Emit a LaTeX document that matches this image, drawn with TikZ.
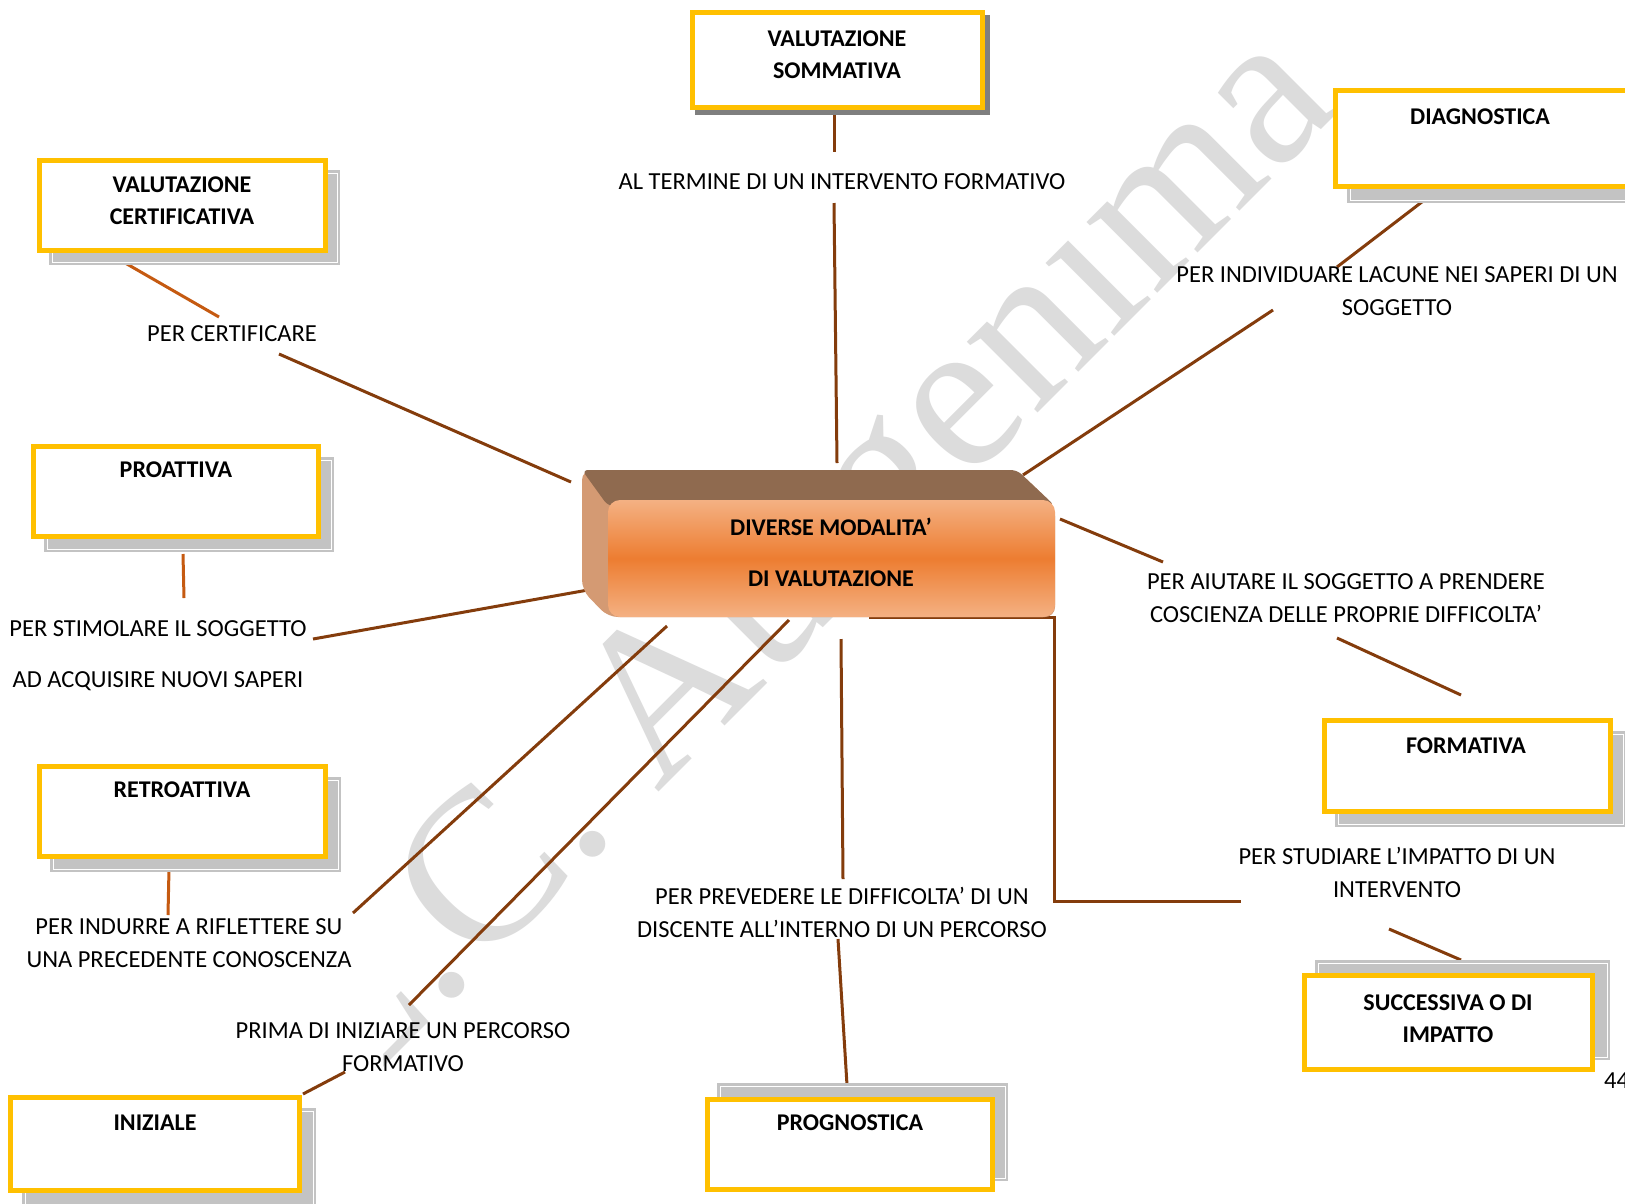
\documentclass[tikz,border=0pt]{standalone}
\usepackage{fontspec}
\setmainfont{Carlito}
\newfontfamily\wmfont{Liberation Serif}
\definecolor{ybord}{HTML}{FFC000}
\definecolor{lnbrown}{HTML}{843C0C}
\definecolor{lnorange}{HTML}{C55A11}
\definecolor{shlight}{HTML}{C3C3C3}
\definecolor{shdark}{HTML}{7F7F7F}
\definecolor{wmgray}{HTML}{DCDCDC}
\definecolor{topface}{HTML}{8F6A4F}
\definecolor{leftface}{HTML}{D49A73}
\definecolor{frontlight}{HTML}{F4B183}
\definecolor{frontdark}{HTML}{ED7D31}
\begin{document}
\begin{tikzpicture}[x=1pt,y=-1pt,
  ybox/.style={draw=ybord,line width=5pt,fill=white,inner sep=0pt},
  shlt/.style={fill=shlight},
  shline/.style={draw=white,line width=1pt},
  btxt/.style={font=\fontsize{24}{32}\selectfont\bfseries,align=center,inner sep=0pt},
  lab/.style={font=\fontsize{24.5}{33}\selectfont,align=center,inner sep=0pt},
  conn/.style={draw=lnbrown,line width=3pt},
  connor/.style={draw=lnorange,line width=3pt}]
\useasboundingbox[fill=white] (0,0) rectangle (1625,1203);

% watermark
\begin{scope}
\clip (383,0) rectangle (1625,1203);
\node[rotate=45,anchor=base west,text=wmgray,inner sep=0pt,
  font=\fontsize{218}{218}\selectfont\wmfont] (wm) at (345,1106) {L.C. Auigenıma};
\end{scope}

% connector end points
\coordinate (a1) at (834,110); \coordinate (a2) at (834,152);
\coordinate (a3) at (834,203); \coordinate (a4) at (837,463);
\coordinate (d1) at (1431,195); \coordinate (d2) at (1337,267);
\coordinate (d3) at (1273,310); \coordinate (d4) at (1023,475);
\coordinate (e1) at (120,260); \coordinate (e2) at (219,317);
\coordinate (e3) at (279,354); \coordinate (e4) at (571,482);
\coordinate (p1) at (183,554); \coordinate (p2) at (184,598);
\coordinate (p3) at (313,639); \coordinate (p4) at (588,590);
\coordinate (r1) at (169,869); \coordinate (r2) at (168,915);
\coordinate (r3) at (353,913); \coordinate (r4) at (667,626);
\coordinate (i3) at (409,1005); \coordinate (i4) at (789,620);
\coordinate (i1) at (303,1094); \coordinate (i2) at (345,1072);
\coordinate (g1) at (841,639); \coordinate (g2) at (843,879);
\coordinate (g3) at (838,939); \coordinate (g4) at (847,1085);
\coordinate (f1) at (1060,519); \coordinate (f2) at (1163,562);
\coordinate (f3) at (1337,638); \coordinate (f4) at (1461,695);
\coordinate (s1) at (869,617); \coordinate (s2) at (1054,617);
\coordinate (s3) at (1054,901); \coordinate (s4) at (1241,901);
\coordinate (s5) at (1389,929); \coordinate (s6) at (1461,960);

\draw[conn] (a1) -- (a2);
\draw[conn] (a3) -- (a4);
\draw[conn] (d1) -- (d2);
\draw[conn] (d3) -- (d4);
\draw[connor] (e1) -- (e2);
\draw[conn] (e3) -- (e4);
\draw[connor] (p1) -- (p2);
\draw[conn] (p3) -- (p4);
\draw[connor] (r1) -- (r2);
\draw[conn] (r3) -- (r4);
\draw[conn] (i3) -- (i4);
\draw[conn] (i1) -- (i2);
\draw[conn] (g1) -- (g2);
\draw[conn] (g3) -- (g4);
\draw[conn] (f1) -- (f2);
\draw[conn] (f3) -- (f4);
\draw[conn] (s1) -- (s2) -- (s3) -- (s4);
\draw[conn] (s5) -- (s6);

% shadows
\fill[shdark] (695,15) rectangle (990,115);
\fill[shlt] (1347,102) rectangle (1640,203);
\draw[shline] (1350,105) rectangle (1637,200);
\fill[shlt] (49,170) rectangle (340,265);
\draw[shline] (52,173) rectangle (337,262);
\fill[shlt] (44,457) rectangle (334,552);
\draw[shline] (47,460) rectangle (331,549);
\fill[shlt] (50,777) rectangle (341,872);
\draw[shline] (53,780) rectangle (338,869);
\fill[shlt] (22,1108) rectangle (316,1210);
\draw[shline] (25,1111) rectangle (313,1207);
\fill[shlt] (717,1083) rectangle (1008,1181);
\draw[shline] (720,1086) rectangle (1005,1178);
\fill[shlt] (1335,731) rectangle (1626,827);
\draw[shline] (1338,734) rectangle (1623,824);
\fill[shlt] (1315,960) rectangle (1610,1060);
\draw[shline] (1318,963) rectangle (1607,1057);

% boxes
\node[ybox,minimum width=290pt,minimum height=95pt] (somm) at (837.5,60) {};
\node[ybox,minimum width=292pt,minimum height=96pt] (diag) at (1481.5,138.5) {};
\node[ybox,minimum width=286pt,minimum height=90pt] (cert) at (182.5,205.5) {};
\node[ybox,minimum width=285pt,minimum height=90pt] (proa) at (176,491.5) {};
\node[ybox,minimum width=286pt,minimum height=90pt] (retr) at (182.5,811.5) {};
\node[ybox,minimum width=289pt,minimum height=93pt] (iniz) at (155,1144) {};
\node[ybox,minimum width=285pt,minimum height=90pt] (prog) at (850,1144.5) {};
\node[ybox,minimum width=286pt,minimum height=91pt] (form) at (1467.5,766) {};
\node[ybox,minimum width=288pt,minimum height=94pt] (succ) at (1448.5,1022.5) {};

\node[btxt] (tsomm) at (837,55) {VALUTAZIONE\\SOMMATIVA};
\node[btxt] (tdiag) at (1480,117) {DIAGNOSTICA};
\node[btxt] (tcert) at (182,200.5) {VALUTAZIONE\\CERTIFICATIVA};
\node[btxt] (tproa) at (176,470) {PROATTIVA};
\node[btxt] (tretr) at (182,790) {RETROATTIVA};
\node[btxt] (tiniz) at (155,1123) {INIZIALE};
\node[btxt] (tprog) at (850,1123) {PROGNOSTICA};
\node[btxt] (tform) at (1466,746) {FORMATIVA};
\node[btxt] (tsucc) at (1448,1019) {SUCCESSIVA O DI\\IMPATTO};

% central 3D box
\fill[leftface,rounded corners=10pt] (582,470) -- (1017,470) -- (1055,506) -- (1055,617) -- (608,617) -- (582,590) -- cycle;
\fill[topface,rounded corners=6pt] (582,470) -- (1017,470) -- (1055,506) -- (608,506) -- cycle;
\shade[top color=frontlight,bottom color=frontlight,middle color=frontdark,rounded corners=12pt]
  (608,500) rectangle (1055,617);
\node[font=\fontsize{24}{51}\selectfont\bfseries,align=center,inner sep=0pt] (core) at (831,552.5)
  {DIVERSE MODALITA’\\DI VALUTAZIONE};

% labels
\node[lab] (lal) at (842,182) {AL TERMINE DI UN INTERVENTO FORMATIVO};
\node[lab] (lind) at (1397,291) {PER INDIVIDUARE LACUNE NEI SAPERI DI UN\\SOGGETTO};
\node[lab] (lcert) at (232,334) {PER CERTIFICARE};
\node[lab,font=\fontsize{24.5}{51}\selectfont] (lstim) at (158,655.5) {PER STIMOLARE IL SOGGETTO\\AD ACQUISIRE NUOVI SAPERI};
\node[lab] (laiu) at (1346,598) {PER AIUTARE IL SOGGETTO A PRENDERE\\COSCIENZA DELLE PROPRIE DIFFICOLTA’};
\node[lab] (lstu) at (1397,872.5) {PER STUDIARE L’IMPATTO DI UN\\INTERVENTO};
\node[lab] (lprev) at (842,912) {PER PREVEDERE LE DIFFICOLTA’ DI UN\\DISCENTE ALL’INTERNO DI UN PERCORSO};
\node[lab] (lindu) at (189,943.5) {PER INDURRE A RIFLETTERE SU\\UNA PRECEDENTE CONOSCENZA};
\node[lab] (lprima) at (403,1047.5) {PRIMA DI INIZIARE UN PERCORSO\\FORMATIVO};
\node[lab,anchor=west] (pg) at (1604,1081) {44};
\end{tikzpicture}
\end{document}
